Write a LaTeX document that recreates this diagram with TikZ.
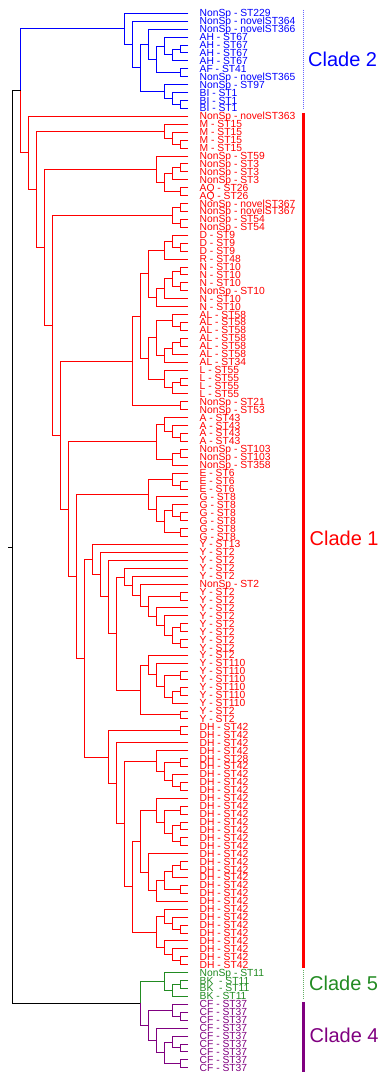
\documentclass[tikz,border=0pt]{standalone}
\usepackage{fontspec}
\setmainfont{Liberation Sans}
\usetikzlibrary{calc}
\definecolor{cblue}{RGB}{0,0,255}
\definecolor{cred}{RGB}{255,0,0}
\definecolor{cgreen}{RGB}{34,139,34}
\definecolor{cpurple}{RGB}{128,0,128}
\newcommand\brcol{cblue}
\tikzset{
  br/.style={line width=0.9pt},
  leaflab/.style={anchor=base west,inner sep=0pt,font=\fontsize{10.3}{10}\selectfont},
  cladelab/.style={anchor=west,inner sep=0pt,font=\fontsize{20}{20}\selectfont},
}
\newcommand\lf[2]{%
  \coordinate (t#1) at (188.3pt,{-(13.3+(#1-1)*7.928)*1pt});
  \node[leaflab,text=\brcol] (l#1) at (199.5pt,{-(16.8+(#1-1)*7.928)*1pt}) {#2};}
\newcommand\nd[4]{%
  \path let \p1=($(#3)!0.5!(#4)$) in coordinate (#1) at ({(188.3-#2*7.98)*1pt},\y1);
  \draw[br,color=\brcol] (#3) -| (#1) |- (#4);}
\newcommand\ndc[6]{%
  \path let \p1=($(#3)!0.5!(#4)$) in coordinate (#1) at ({(188.3-#2*7.98)*1pt},\y1);
  \draw[br,color=#5] (#3) -| (#1);
  \draw[br,color=#6] (#1) |- (#4);}
\begin{document}
\begin{tikzpicture}
\useasboundingbox (0pt,0pt) rectangle (380pt,-1075pt);
% ---------- Clade 2 (blue)
\renewcommand\brcol{cblue}
\lf{1}{NonSp - ST229}
\lf{2}{NonSp - novelST364}
\lf{3}{NonSp - novelST366}
\lf{4}{AH - ST67}
\lf{5}{AH - ST67}
\lf{6}{AH - ST67}
\lf{7}{AH - ST67}
\lf{8}{AF - ST41}
\lf{9}{NonSp - novelST365}
\lf{10}{NonSp - ST97}
\lf{11}{BI - ST1}
\lf{12}{BI - ST1}
\lf{13}{BI - ST1}
\nd{b56}{1}{t5}{t6}
\nd{b57}{2}{b56}{t7}
\nd{b47}{3}{t4}{b57}
\nd{b89}{1}{t8}{t9}
\nd{b49}{4}{b47}{b89}
\nd{b39}{5}{t3}{b49}
\nd{b1213}{1}{t12}{t13}
\nd{b1113}{2}{t11}{b1213}
\nd{b1013}{3}{t10}{b1113}
\nd{b313}{6}{b39}{b1013}
\nd{b213}{7}{t2}{b313}
\nd{c2}{8}{t1}{b213}
% ---------- Clade 1 (red)
\renewcommand\brcol{cred}
\lf{14}{NonSp - novelST363}
\lf{15}{M - ST15}
\lf{16}{M - ST15}
\lf{17}{M - ST15}
\lf{18}{M - ST15}
\lf{19}{NonSp - ST59}
\lf{20}{NonSp - ST3}
\lf{21}{NonSp - ST3}
\lf{22}{NonSp - ST3}
\lf{23}{AQ - ST26}
\lf{24}{AQ - ST26}
\lf{25}{NonSp - novelST367}
\lf{26}{NonSp - novelST367}
\lf{27}{NonSp - ST54}
\lf{28}{NonSp - ST54}
\lf{29}{D - ST9}
\lf{30}{D - ST9}
\lf{31}{D - ST9}
\lf{32}{R - ST48}
\lf{33}{N - ST10}
\lf{34}{N - ST10}
\lf{35}{N - ST10}
\lf{36}{NonSp - ST10}
\lf{37}{N - ST10}
\lf{38}{N - ST10}
\lf{39}{AL - ST58}
\lf{40}{AL - ST58}
\lf{41}{AL - ST58}
\lf{42}{AL - ST58}
\lf{43}{AL - ST58}
\lf{44}{AL - ST58}
\lf{45}{AL - ST34}
\lf{46}{L - ST55}
\lf{47}{L - ST55}
\lf{48}{L - ST55}
\lf{49}{L - ST55}
\lf{50}{NonSp - ST21}
\lf{51}{NonSp - ST53}
\lf{52}{A - ST43}
\lf{53}{A - ST43}
\lf{54}{A - ST43}
\lf{55}{A - ST43}
\lf{56}{NonSp - ST103}
\lf{57}{NonSp - ST103}
\lf{58}{NonSp - ST358}
\lf{59}{E - ST6}
\lf{60}{E - ST6}
\lf{61}{E - ST6}
\lf{62}{G - ST8}
\lf{63}{G - ST8}
\lf{64}{G - ST8}
\lf{65}{G - ST8}
\lf{66}{G - ST8}
\lf{67}{G - ST8}
\lf{68}{Y - ST13}
\lf{69}{Y - ST2}
\lf{70}{Y - ST2}
\lf{71}{Y - ST2}
\lf{72}{Y - ST2}
\lf{73}{NonSp - ST2}
\lf{74}{Y - ST2}
\lf{75}{Y - ST2}
\lf{76}{Y - ST2}
\lf{77}{Y - ST2}
\lf{78}{Y - ST2}
\lf{79}{Y - ST2}
\lf{80}{Y - ST2}
\lf{81}{Y - ST2}
\lf{82}{Y - ST2}
\lf{83}{Y - ST110}
\lf{84}{Y - ST110}
\lf{85}{Y - ST110}
\lf{86}{Y - ST110}
\lf{87}{Y - ST110}
\lf{88}{Y - ST110}
\lf{89}{Y - ST2}
\lf{90}{Y - ST2}
\lf{91}{DH - ST42}
\lf{92}{DH - ST42}
\lf{93}{DH - ST42}
\lf{94}{DH - ST42}
\lf{95}{DH - ST28}
\lf{96}{DH - ST42}
\lf{97}{DH - ST42}
\lf{98}{DH - ST42}
\lf{99}{DH - ST42}
\lf{100}{DH - ST42}
\lf{101}{DH - ST42}
\lf{102}{DH - ST42}
\lf{103}{DH - ST42}
\lf{104}{DH - ST42}
\lf{105}{DH - ST42}
\lf{106}{DH - ST42}
\lf{107}{DH - ST42}
\lf{108}{DH - ST42}
\lf{109}{DH - ST42}
\lf{110}{DH - ST42}
\lf{111}{DH - ST42}
\lf{112}{DH - ST42}
\lf{113}{DH - ST42}
\lf{114}{DH - ST42}
\lf{115}{DH - ST42}
\lf{116}{DH - ST42}
\lf{117}{DH - ST42}
\lf{118}{DH - ST42}
\lf{119}{DH - ST42}
\lf{120}{DH - ST42}
\lf{121}{DH - ST42}
% M
\nd{m1718}{1}{t17}{t18}
\nd{m1618}{2}{t16}{m1718}
\nd{m1518}{3}{t15}{m1618}
% 19-24
\nd{r2021}{1}{t20}{t21}
\nd{r2022}{2}{r2021}{t22}
\nd{r2324}{1}{t23}{t24}
\nd{r2024}{3}{r2022}{r2324}
\nd{r1924}{4}{t19}{r2024}
% 25-28
\nd{r2526}{1}{t25}{t26}
\nd{r2728}{1}{t27}{t28}
\nd{r2528}{2}{r2526}{r2728}
% D
\nd{r3031}{1}{t30}{t31}
\nd{r2931}{2}{t29}{r3031}
\nd{r2932}{3}{r2931}{t32}
% N
\nd{r3334}{1}{t33}{t34}
\nd{r3536}{1}{t35}{t36}
\nd{r3336}{2}{r3334}{r3536}
\nd{r3337}{3}{r3336}{t37}
\nd{r3338}{4}{r3337}{t38}
\nd{r2938}{5}{r2932}{r3338}
% AL
\nd{r4041}{1}{t40}{t41}
\nd{r3941}{2}{t39}{r4041}
\nd{r4243}{1}{t42}{t43}
\nd{r4244}{2}{r4243}{t44}
\nd{r4245}{3}{r4244}{t45}
\nd{r3945}{4}{r3941}{r4245}
% L
\nd{r4748}{1}{t47}{t48}
\nd{r4749}{2}{r4748}{t49}
\nd{r4649}{3}{t46}{r4749}
\nd{r3949}{5}{r3945}{r4649}
\nd{r2949}{6}{r2938}{r3949}
\nd{r5051}{1}{t50}{t51}
\nd{r2951}{7}{r2949}{r5051}
% A
\nd{r5455}{1}{t54}{t55}
\nd{r5355}{2}{t53}{r5455}
\nd{r5255}{3}{t52}{r5355}
\nd{r5657}{1}{t56}{t57}
\nd{r5658}{2}{r5657}{t58}
\nd{r5258}{4}{r5255}{r5658}
% E, G
\nd{r6061}{1}{t60}{t61}
\nd{r5961}{2}{t59}{r6061}
\nd{r6465}{1}{t64}{t65}
\nd{r6365}{2}{t63}{r6465}
\nd{r6667}{1}{t66}{t67}
\nd{r6367}{3}{r6365}{r6667}
\nd{r6267}{4}{t62}{r6367}
\nd{r5967}{5}{r5961}{r6267}
% Y
\nd{y8081}{1}{t80}{t81}
\nd{y7879}{1}{t78}{t79}
\nd{y7881}{2}{y7879}{y8081}
\nd{y7781}{3}{t77}{y7881}
\nd{y7681}{4}{t76}{y7781}
\nd{y7475}{1}{t74}{t75}
\nd{y7481}{5}{y7475}{y7681}
\nd{y7381}{6}{t73}{y7481}
\nd{y7281}{7}{t72}{y7381}
\nd{y7181}{8}{t71}{y7281}
\nd{y8485}{1}{t84}{t85}
\nd{y8687}{1}{t86}{t87}
\nd{y8688}{2}{y8687}{t88}
\nd{y8488}{3}{y8485}{y8688}
\nd{y8388}{4}{t83}{y8488}
\nd{y8288}{5}{t82}{y8388}
\nd{y8990}{1}{t89}{t90}
\nd{y8290}{6}{y8288}{y8990}
\nd{y7190}{9}{y7181}{y8290}
\nd{y7090}{10}{t70}{y7190}
\nd{y6990}{11}{t69}{y7090}
\nd{y6890}{12}{t68}{y6990}
% DH
\nd{d9192}{1}{t91}{t92}
\nd{d9596}{1}{t95}{t96}
\nd{d9899}{1}{t98}{t99}
\nd{d9799}{2}{t97}{d9899}
\nd{d9599}{3}{d9596}{d9799}
\nd{d9499}{4}{t94}{d9599}
\nd{d101102}{1}{t101}{t102}
\nd{d103104}{1}{t103}{t104}
\nd{d105106}{1}{t105}{t106}
\nd{d103106}{2}{d103104}{d105106}
\nd{d101106}{3}{d101102}{d103106}
\nd{d100106}{4}{t100}{d101106}
\nd{d108109}{1}{t108}{t109}
\nd{d108110}{2}{d108109}{t110}
\nd{d111112}{1}{t111}{t112}
\nd{d108112}{3}{d108110}{d111112}
\nd{d108113}{4}{d108112}{t113}
\nd{d107113}{5}{t107}{d108113}
\nd{d100113}{6}{d100106}{d107113}
\nd{d116117}{1}{t116}{t117}
\nd{d115117}{2}{t115}{d116117}
\nd{d114117}{3}{t114}{d115117}
\nd{d120121}{1}{t120}{t121}
\nd{d119121}{2}{t119}{d120121}
\nd{d118121}{3}{t118}{d119121}
\nd{d114121}{4}{d114117}{d118121}
\nd{d100121}{7}{d100113}{d114121}
\nd{d94121}{8}{d9499}{d100121}
\nd{d93121}{9}{t93}{d94121}
\nd{d91121}{10}{d9192}{d93121}
% backbone of clade 1
\nd{r68121}{13}{y6890}{d91121}
\nd{r59121}{14}{r5967}{r68121}
\nd{r52121}{15}{r5258}{r59121}
\nd{r29121}{16}{r2951}{r52121}
\nd{r25121}{17}{r2528}{r29121}
\nd{r19121}{18}{r1924}{r25121}
\nd{r15121}{19}{m1518}{r19121}
\nd{c1}{20}{t14}{r15121}
% ---------- Clade 5 (green)
\renewcommand\brcol{cgreen}
\lf{122}{NonSp - ST11}
\lf{123}{BK~ - ST11}
\lf{124}{BK~ - ST11}
\lf{125}{BK - ST11}
\nd{g123124}{1}{t123}{t124}
\nd{g123125}{2}{g123124}{t125}
\nd{c5}{3}{t122}{g123125}
% ---------- Clade 4 (purple)
\renewcommand\brcol{cpurple}
\lf{126}{CF - ST37}
\lf{127}{CF - ST37}
\lf{128}{CF - ST37}
\lf{129}{CF - ST37}
\lf{130}{CF - ST37}
\lf{131}{CF - ST37}
\lf{132}{CF - ST37}
\lf{133}{CF - ST37}
\lf{134}{CF - ST37}
\nd{p127128}{1}{t127}{t128}
\nd{p126128}{2}{t126}{p127128}
\nd{p131132}{1}{t131}{t132}
\nd{p130132}{2}{t130}{p131132}
\nd{p133134}{1}{t133}{t134}
\nd{p130134}{3}{p130132}{p133134}
\nd{p129134}{4}{t129}{p130134}
\nd{c4}{5}{p126128}{p129134}
% ---------- joins
\ndc{top}{21}{c2}{c1}{cblue}{cred}
\ndc{bot}{6}{c5}{c4}{cgreen}{cpurple}
\ndc{root}{22}{top}{bot}{black}{black}
\coordinate (tick) at ([xshift=-4.7pt]root);
\draw[br,black] (root) -- (tick);
% ---------- clade bars and labels
\coordinate (b2a) at (303.3pt,-10pt);   \coordinate (b2b) at (303.3pt,-110pt);
\coordinate (b1a) at (303.3pt,-113pt);  \coordinate (b1b) at (303.3pt,-968pt);
\coordinate (b5a) at (303.3pt,-970pt);  \coordinate (b5b) at (303.3pt,-1000pt);
\coordinate (b4a) at (303.3pt,-1002pt); \coordinate (b4b) at (303.3pt,-1072pt);
\draw[cblue!60,line width=1pt,densely dotted] (b2a) -- (b2b);
\draw[cred,line width=3.3pt] (b1a) -- (b1b);
\draw[cgreen!70,line width=1pt,densely dotted] (b5a) -- (b5b);
\draw[cpurple,line width=3pt] (b4a) -- (b4b);
\node[cladelab,text=cblue] (k2) at (308pt,-59.3pt) {Clade 2};
\node[cladelab,text=cred] (k1) at (309.5pt,-538.5pt) {Clade 1};
\node[cladelab,text=cgreen] (k5) at (309pt,-983.3pt) {Clade 5};
\node[cladelab,text=cpurple] (k4) at (309.5pt,-1035pt) {Clade 4};
\end{tikzpicture}
\end{document}
